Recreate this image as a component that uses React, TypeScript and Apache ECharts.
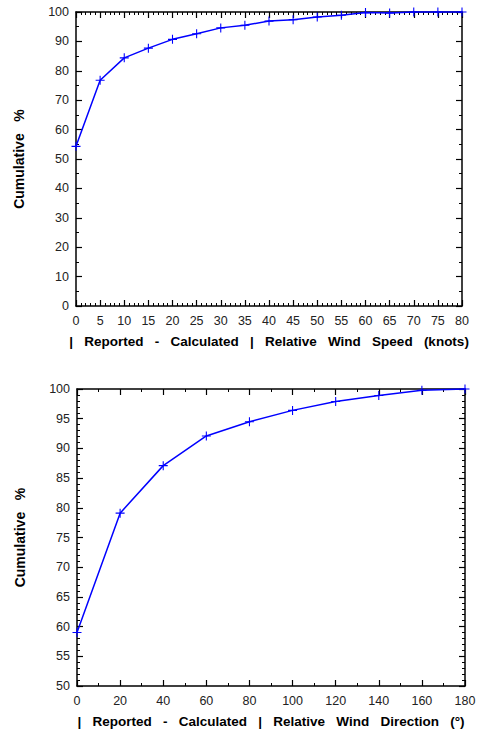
import React, { useEffect, useRef } from "react";
import * as echarts from "echarts";

const speedX = [0, 5, 10, 15, 20, 25, 30, 35, 40, 45, 50, 55, 60, 65, 70, 75, 80];
const speedCum = [54.3, 76.8, 84.4, 87.7, 90.7, 92.6, 94.6, 95.5, 96.9, 97.4, 98.3, 98.9, 99.8, 99.7, 100, 100, 100];
const dirX = [0, 20, 40, 60, 80, 100, 120, 140, 160, 180];
const dirCum = [59.0, 79.1, 87.1, 92.1, 94.5, 96.4, 97.9, 98.9, 99.8, 100];

const yTitle = "Cumulative   %";
const xTitle1 = "|   Reported   -   Calculated   |   Relative   Wind   Speed   (knots)";
const xTitle2 = "|   Reported   -   Calculated   |   Relative   Wind   Direction   (°)";

const FONT = "Liberation Sans, Arial, sans-serif";
const PLUS = "path://M4.4,0h1.2v4.4h4.4v1.2h-4.4v4.4h-1.2v-4.4h-4.4v-1.2h4.4z";

function minor(n: number) {
  return { show: true, splitNumber: n, length: 3, lineStyle: { color: "#000", width: 1 } };
}

function axisBase(showLabels: boolean) {
  return {
    axisLine: { show: true, onZero: false, lineStyle: { color: "#000", width: 1.5 } },
    axisTick: { show: true, inside: true, length: 6, lineStyle: { color: "#000", width: 1.2 } },
    splitLine: { show: false },
    minorSplitLine: { show: false },
    axisLabel: { show: showLabels, color: "#222", fontFamily: FONT, fontSize: 12.5, margin: 7 },
  };
}

export default function App() {
  const ref = useRef<HTMLDivElement>(null);
  useEffect(() => {
    if (!ref.current) return;
    const chart = echarts.init(ref.current, null, { renderer: "svg" });
    const xName = (name: string) => ({
      name,
      nameLocation: "middle",
      nameGap: 28,
      nameTextStyle: { fontFamily: FONT, fontWeight: "bold", fontSize: 13.5, color: "#000" },
    });
    const yName = {
      name: yTitle,
      nameLocation: "middle",
      nameGap: 50,
      nameTextStyle: { fontFamily: FONT, fontWeight: "bold", fontSize: 14, color: "#000" },
    };
    const xLabel = { ...axisBase(true).axisLabel, margin: 8 };
    chart.setOption({
      animation: false,
      backgroundColor: "#fff",
      grid: [
        { left: 76, right: 28, top: 12, height: 294 },
        { left: 77, right: 25, top: 389, height: 297 },
      ],
      xAxis: [
        { type: "value", gridIndex: 0, min: 0, max: 80, interval: 5, ...axisBase(true), minorTick: minor(5), axisLabel: xLabel, ...xName(xTitle1) },
        { type: "value", gridIndex: 0, min: 0, max: 80, interval: 5, position: "top", ...axisBase(false), minorTick: minor(5) },
        { type: "value", gridIndex: 1, min: 0, max: 180, interval: 20, ...axisBase(true), minorTick: minor(2), axisLabel: xLabel, ...xName(xTitle2) },
        { type: "value", gridIndex: 1, min: 0, max: 180, interval: 20, position: "top", ...axisBase(false), minorTick: minor(2) },
      ],
      yAxis: [
        { type: "value", gridIndex: 0, min: 0, max: 100, interval: 10, ...axisBase(true), minorTick: minor(2), ...yName },
        { type: "value", gridIndex: 0, min: 0, max: 100, interval: 10, position: "right", ...axisBase(false), minorTick: minor(2) },
        { type: "value", gridIndex: 1, min: 50, max: 100, interval: 5, ...axisBase(true), minorTick: minor(5), ...yName },
        { type: "value", gridIndex: 1, min: 50, max: 100, interval: 5, position: "right", ...axisBase(false), minorTick: minor(5) },
      ],
      series: [
        {
          type: "line",
          xAxisIndex: 0,
          yAxisIndex: 0,
          data: speedX.map((x, i) => [x, speedCum[i]]),
          symbol: PLUS,
          symbolSize: 9,
          showAllSymbol: true,
          clip: false,
          lineStyle: { color: "#0000ff", width: 1.5 },
          itemStyle: { color: "#0000ff" },
        },
        {
          type: "line",
          xAxisIndex: 2,
          yAxisIndex: 2,
          data: dirX.map((x, i) => [x, dirCum[i]]),
          symbol: PLUS,
          symbolSize: 9,
          showAllSymbol: true,
          clip: false,
          lineStyle: { color: "#0000ff", width: 1.5 },
          itemStyle: { color: "#0000ff" },
        },
      ],
    });
    return () => chart.dispose();
  }, []);
  return <div ref={ref} style={{ position: "absolute", left: 0, top: 0, width: 490, height: 731 }} />;
}
